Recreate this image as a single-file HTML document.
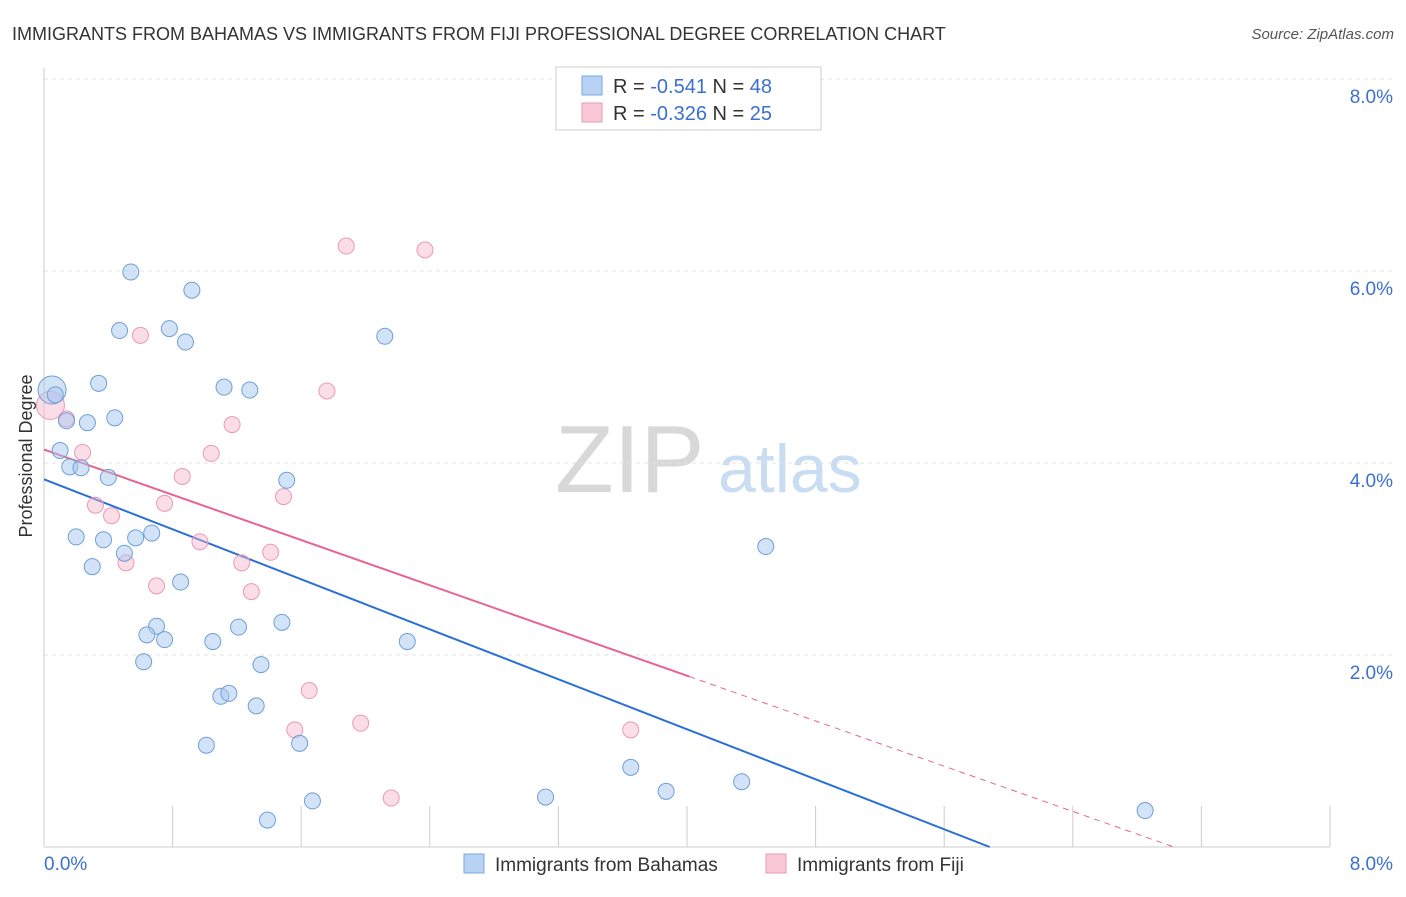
<!DOCTYPE html>
<html><head><meta charset="utf-8"><style>
body{margin:0;background:#fff;font-family:"Liberation Sans",sans-serif;}
svg text{font-family:"Liberation Sans",sans-serif;}
</style></head><body>
<svg id="chart" width="1406" height="892">
<text x="12" y="40" font-size="18" fill="#333">IMMIGRANTS FROM BAHAMAS VS IMMIGRANTS FROM FIJI PROFESSIONAL DEGREE CORRELATION CHART</text>
<text x="1394" y="39" font-size="15" fill="#555" text-anchor="end" font-style="italic">Source: ZipAtlas.com</text>
<text x="32" y="456" font-size="18" fill="#333" text-anchor="middle" transform="rotate(-90 32 456)">Professional Degree</text>
<text x="555" y="492" font-size="96" fill="#d8d8d8" font-family="Liberation Serif">ZIP</text>
<text x="718" y="492" font-size="68" fill="#c8dcf2">atlas</text>
<g id="grid"></g><g id="lines"></g><g id="pts"></g>
<g>
<rect x="556" y="67" width="265" height="63" fill="#fff" stroke="#ccc"/>
<rect x="582" y="76" width="20" height="19" fill="#b8d2f4" stroke="#7aa8e0"/>
<text x="613" y="93" font-size="20" fill="#333">R = <tspan fill="#3a70d0">-0.541</tspan>   N = <tspan fill="#3a70d0">48</tspan></text>
<rect x="582" y="103" width="20" height="19" fill="#f9c8d6" stroke="#ec9ab4"/>
<text x="613" y="120" font-size="20" fill="#333">R = <tspan fill="#3a70d0">-0.326</tspan>   N = <tspan fill="#3a70d0">25</tspan></text>
</g>
<g>
<rect x="464" y="854" width="20" height="19" fill="#b8d2f4" stroke="#7aa8e0"/>
<text x="495" y="871" font-size="19" fill="#333">Immigrants from Bahamas</text>
<rect x="766" y="854" width="20" height="19" fill="#f9c8d6" stroke="#ec9ab4"/>
<text x="797" y="871" font-size="19" fill="#333">Immigrants from Fiji</text>
</g>
</svg>
<script>
const yTicks=[2,4,6,8];
const yTickLabels=["2.0%","4.0%","6.0%","8.0%"];
const xTickLabels=["0.0%","8.0%"];
const bahamasX=[0.05,0.07,0.54,0.92,0.47,0.78,0.88,2.12,0.34,1.12,1.28,0.14,0.27,0.44,0.10,0.16,0.23,0.40,1.51,0.20,0.37,0.57,0.67,0.50,0.30,0.85,4.49,0.70,0.64,0.75,1.05,1.21,1.48,2.26,0.62,1.35,1.10,1.15,1.32,1.01,1.59,3.65,4.34,3.87,3.12,1.67,1.39,6.85];
const bahamasY=[4.76,4.71,5.99,5.80,5.38,5.40,5.26,5.32,4.83,4.79,4.76,4.44,4.42,4.47,4.13,3.96,3.95,3.85,3.82,3.23,3.20,3.22,3.27,3.06,2.92,2.76,3.13,2.30,2.21,2.16,2.14,2.29,2.34,2.14,1.93,1.90,1.57,1.60,1.47,1.06,1.08,0.83,0.68,0.58,0.52,0.48,0.28,0.38];
const fijiX=[0.04,0.14,0.24,1.88,2.37,0.60,1.76,1.17,1.04,0.86,0.32,0.42,0.75,1.49,0.97,1.41,0.51,1.23,0.70,1.29,1.65,1.56,1.97,3.65,2.16];
const fijiY=[4.60,4.46,4.11,6.26,6.22,5.33,4.75,4.40,4.10,3.86,3.56,3.45,3.58,3.65,3.18,3.07,2.96,2.96,2.72,2.66,1.63,1.22,1.29,1.22,0.51];
const bahamasFit=[3.83,-0.651];
const fijiFit=[4.14,-0.589];
const X=v=>44+v*160.75, Y=v=>847-v*96;
const NS="http://www.w3.org/2000/svg";
function mk(tag,attrs,parent){const e=document.createElementNS(NS,tag);for(const k in attrs)e.setAttribute(k,attrs[k]);parent.appendChild(e);return e;}
const grid=document.getElementById('grid'),lines=document.getElementById('lines'),pts=document.getElementById('pts');
yTicks.forEach((t,i)=>{
 const l=mk('line',{x1:44,x2:1394,y1:Y(t),y2:Y(t),stroke:'#e2e2e2','stroke-dasharray':'4,4'},grid);
 
 
 const tx=mk('text',{x:1393,y:Y(t)+24,'font-size':19,fill:'#3a70d0','text-anchor':'end'},grid);
 tx.textContent=yTickLabels[i];
 
 
});
const ax=mk('line',{x1:44,x2:44,y1:68,y2:847,stroke:'#ccc'},grid);


const bx=mk('line',{x1:44,x2:1330,y1:847,y2:847,stroke:'#ccc'},grid);


for(let i=1;i<=10;i++){
 const t=mk('line',{x1:X(i*0.8),x2:X(i*0.8),y1:806,y2:847,stroke:'#ccc'},grid);
 
 
}
const xl0=mk('text',{x:44,y:870,'font-size':19,fill:'#3a70d0'},grid);xl0.textContent=xTickLabels[0];


const xl1=mk('text',{x:1393,y:870,'font-size':19,fill:'#3a70d0','text-anchor':'end'},grid);xl1.textContent=xTickLabels[1];


// fits
const bz=-bahamasFit[0]/bahamasFit[1];
const bl=mk('line',{x1:X(0),y1:Y(bahamasFit[0]),x2:X(bz),y2:Y(0),stroke:'#2a6fd6','stroke-width':2},lines);


const fmax=Math.max(...fijiX)*1.1, fz=-fijiFit[0]/fijiFit[1];
const fl=mk('line',{x1:X(0),y1:Y(fijiFit[0]),x2:X(fmax),y2:Y(fijiFit[0]+fijiFit[1]*fmax),stroke:'#e8648e','stroke-width':2},lines);


const fd=mk('line',{x1:X(fmax),y1:Y(fijiFit[0]+fijiFit[1]*fmax),x2:X(fz),y2:Y(0),stroke:'#e8648e','stroke-width':1,'stroke-dasharray':'6,5'},lines);


fijiX.forEach((x,i)=>{
 const c=mk('circle',{cx:X(x),cy:Y(fijiY[i]),r:i==0?14:8,fill:'rgba(245,180,200,0.45)',stroke:'#eb9ab4','stroke-width':1},pts);
 
 
});
bahamasX.forEach((x,i)=>{
 const c=mk('circle',{cx:X(x),cy:Y(bahamasY[i]),r:i==0?14:8,fill:'rgba(168,200,240,0.5)',stroke:'#6e9fd8','stroke-width':1},pts);
 
 
});
</script>
</body></html>
